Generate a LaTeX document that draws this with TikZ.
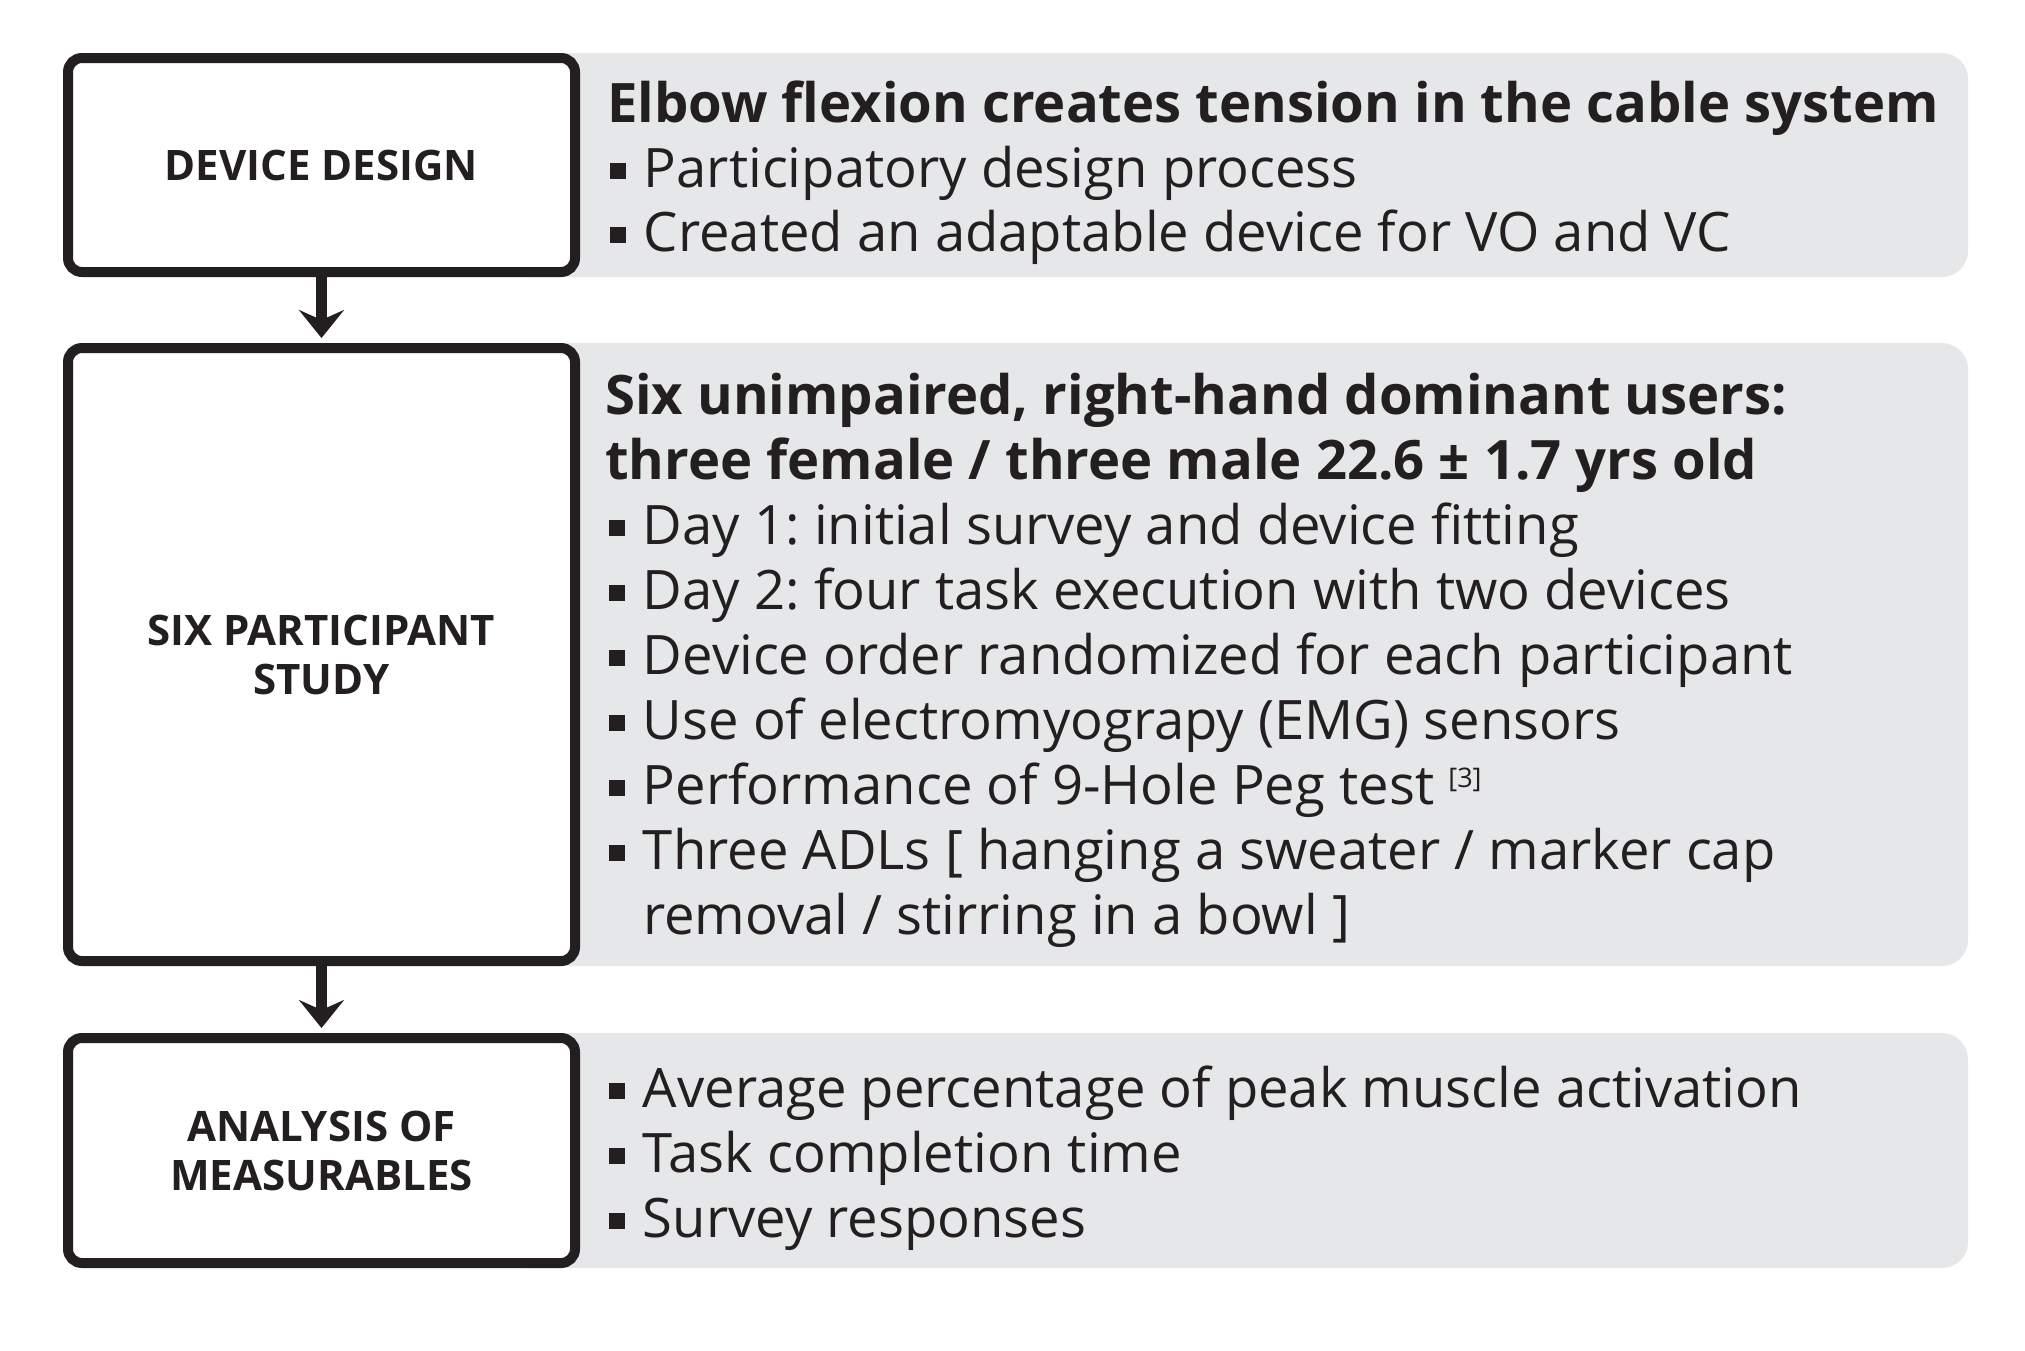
\documentclass[tikz,border=0pt]{standalone}
\usepackage{fontspec}
\setmainfont{Open Sans}
\usetikzlibrary{arrows.meta}
\definecolor{ink}{HTML}{231F20}
\definecolor{panelgray}{HTML}{E6E7E8}
\newcommand{\blt}{\rule[0.15em]{0.29em}{0.29em}\hspace{0.33em}}
\newcommand{\refmark}[1]{\raisebox{17pt}{\fontsize{27}{27}\selectfont #1}}
\frenchspacing
\begin{document}
\begin{tikzpicture}[x=1pt,y=-1pt,
  stagebox/.style={draw=ink, line width=10pt, rounded corners=14pt, fill=white, minimum width=507pt, align=center, font=\fontsize{42}{49}\selectfont\bfseries, text=ink, inner sep=0pt},
  panel/.style={fill=panelgray, rounded corners=26pt, minimum width=1468pt, inner sep=0pt},
  txt/.style={anchor=base west, inner sep=0pt, text=ink, font=\fontsize{54.4}{65}\selectfont\frenchspacing},
  head/.style={txt, font=\fontsize{54.4}{65}\selectfont\bfseries\frenchspacing},
  flow/.style={draw=ink, line width=11pt, -{Stealth[length=28pt,width=45pt,inset=10pt]}}
]
\useasboundingbox (0,0) rectangle (2025,1350);
% panels
\node[panel, minimum height=224pt] (p1) at (1234,165) {};
\node[panel, minimum height=623pt] (p2) at (1234,654.5) {};
\node[panel, minimum height=235pt] (p3) at (1234,1150.5) {};
% boxes
\node[stagebox, minimum height=214pt] (b1) at (321.5,165) {DEVICE DESIGN};
\node[stagebox, minimum height=613pt] (b2) at (321.5,654.5) {SIX PARTICIPANT\\STUDY};
\node[stagebox, minimum height=225pt] (b3) at (321.5,1150.5) {ANALYSIS OF\\MEASURABLES};
% arrows
\draw[flow] (b1.south) -- ([yshift=5pt]b2.north);
\draw[flow] (b2.south) -- ([yshift=5pt]b3.north);
% panel 1 text
\node[head] (h1) at (607,122) {Elbow flexion creates tension in the cable system};
\node[txt] (t11) at (610,187) {\blt Participatory design process};
\node[txt] (t12) at (610,251) {\blt Created an adaptable device for VO and VC};
% panel 2 text
\node[head] (h21) at (605,414) {Six unimpaired, right-hand dominant users:};
\node[head] (h22) at (605,479) {three female / three male 22.6 ± 1.7 yrs old};
\node[txt] (t21) at (609,544) {\blt Day 1: initial survey and device fitting};
\node[txt] (t22) at (609,609) {\blt Day 2: four task execution with two devices};
\node[txt] (t23) at (609,674) {\blt Device order randomized for each participant};
\node[txt] (t24) at (609,739) {\blt Use of electromyograpy (EMG) sensors};
\node[txt] (t25) at (609,804) {\blt Performance of 9-Hole Peg test \refmark{[3]}};
\node[txt] (t26) at (609,869) {\blt Three ADLs [ hanging a sweater / marker cap};
\node[txt] (t27) at (643,934) {removal / stirring in a bowl ]};
% panel 3 text
\node[txt] (t31) at (609,1107) {\blt Average percentage of peak muscle activation};
\node[txt] (t32) at (609,1172) {\blt Task completion time};
\node[txt] (t33) at (609,1237) {\blt Survey responses};
\end{tikzpicture}
\end{document}
